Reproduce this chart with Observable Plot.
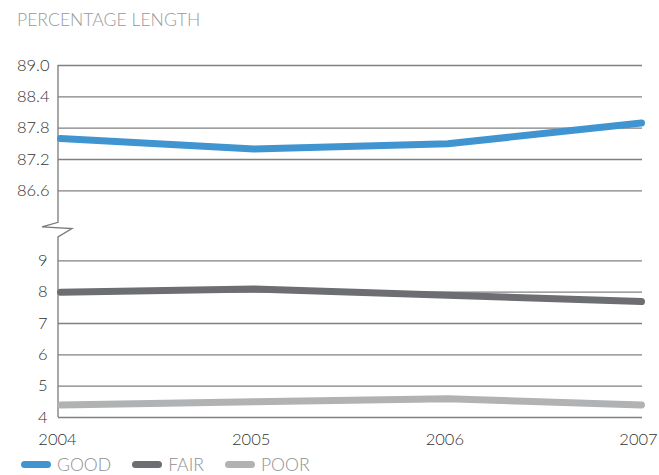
<!DOCTYPE html>
<html>
<head>
<meta charset="utf-8">
<script src="https://cdn.jsdelivr.net/npm/d3@7"></script>
<script src="https://cdn.jsdelivr.net/npm/@observablehq/plot@0.6"></script>
<style>
  body { margin: 0; background: #fff; font-family: Lato, "Open Sans", sans-serif; }
  #wrap { position: relative; width: 659px; height: 475px; overflow: hidden; }
  #chart { position: absolute; left: 0; top: 0; }
  #title { position: absolute; left: 17px; top: 11px; font-size: 17.6px; line-height: 17px; color: #999999; font-weight: 300; white-space: nowrap; }
  #legend { position: absolute; left: 21px; top: 456px; display: flex; align-items: center; font-size: 17.6px; line-height: 17px; color: #8f8f8f; font-weight: 300; }
  .item { display: flex; align-items: center; margin-right: 21px; }
  .sw { width: 30px; height: 7px; border-radius: 3.5px; margin-right: 6px; }
</style>
</head>
<body>
<div id="wrap">
  <div id="chart"></div>
  <div id="title">PERCENTAGE LENGTH</div>
  <div id="legend"></div>
</div>
<script>
// Share of network length by condition, 2004–2007
const years = [2004, 2005, 2006, 2007];
const good = [87.6, 87.4, 87.5, 87.9];
const fair = [8.0, 8.1, 7.9, 7.7];
const poor = [4.4, 4.5, 4.6, 4.4];
const seriesNames = ["GOOD", "FAIR", "POOR"];
const seriesColors = ["#4095d1", "#6d6e71", "#b0b2b4"];
const upperTicks = [86.6, 87.2, 87.8, 88.4, 89.0];
const lowerTicks = [4, 5, 6, 7, 8, 9];

// Broken y axis: the lower band keeps its units, the upper band (0.6 per step)
// is stretched to the same step height and lifted above a gap.
const BREAK_GAP = 2.233;
const brk = v => v < 50 ? v : 9 + BREAK_GAP + (v - 86.6) / 0.6;

const rows = [];
[good, fair, poor].forEach((vals, i) =>
  vals.forEach((v, j) => rows.push({year: years[j], value: v, series: seriesNames[i]}))
);

// Left axis line with a zigzag where the scale is broken
function axisWithBreak(index, scales, values, dims) {
  const x0 = dims.marginLeft;
  const top = scales.y(brk(89.0));
  const bottom = scales.y(4);
  const mid = (scales.y(9) + scales.y(brk(86.6))) / 2;
  const path = document.createElementNS("http://www.w3.org/2000/svg", "path");
  path.setAttribute("d",
    `M${x0},${top}V${mid - 3}L${x0 - 16},${mid + 1.5}L${x0 + 14},${mid + 3.3}L${x0},${mid + 11.6}V${bottom}`);
  path.setAttribute("fill", "none");
  path.setAttribute("stroke", "#7a7a7a");
  path.setAttribute("stroke-width", 1.3);
  const g = document.createElementNS("http://www.w3.org/2000/svg", "g");
  g.appendChild(path);
  return g;
}

const chart = Plot.plot({
  width: 659,
  height: 455,
  marginLeft: 58,
  marginRight: 17,
  marginTop: 65,
  marginBottom: 38,
  style: {fontFamily: "Lato, 'Open Sans', sans-serif", fontSize: "16.5px", fontWeight: 300, color: "#333333", background: "transparent"},
  x: {domain: [2004, 2007], insetLeft: 2, insetRight: 1},
  y: {transform: brk, axis: null},
  color: {domain: seriesNames, range: seriesColors},
  marks: [
    Plot.ruleY([...lowerTicks, ...upperTicks], {stroke: "#808080", strokeWidth: 1.3, strokeOpacity: 1}),
    axisWithBreak,
    Plot.text(upperTicks, {y: d => d, text: d => d.toFixed(1), frameAnchor: "left", textAnchor: "end", dx: -9}),
    Plot.text(lowerTicks, {y: d => d, text: d => String(d), frameAnchor: "left", textAnchor: "end", dx: -11}),
    Plot.axisX(years, {tickFormat: "d", tickSize: 0, tickPadding: 16, dx: -3, label: null}),
    Plot.line(rows, {x: "year", y: "value", z: "series", stroke: "series", strokeWidth: 7, strokeLinecap: "round", strokeLinejoin: "round"})
  ]
});
document.getElementById("chart").appendChild(chart);

// Legend with rounded line swatches
const legend = document.getElementById("legend");
seriesNames.forEach((name, i) => {
  const item = document.createElement("div");
  item.className = "item";
  const sw = document.createElement("div");
  sw.className = "sw";
  sw.style.background = seriesColors[i];
  const label = document.createElement("span");
  label.textContent = name;
  item.appendChild(sw);
  item.appendChild(label);
  legend.appendChild(item);
});
</script>
</body>
</html>
